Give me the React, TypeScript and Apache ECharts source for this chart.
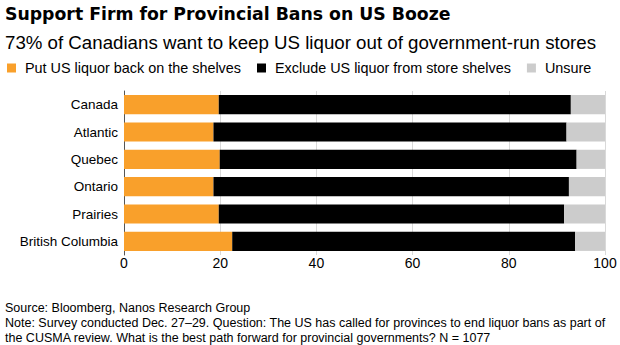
import React, { useEffect, useRef } from "react";
import * as echarts from "echarts";

const categories = ["Canada", "Atlantic", "Quebec", "Ontario", "Prairies", "British Columbia"];
const putBack = [19.7, 18.6, 19.9, 18.6, 19.7, 22.5];
const exclude = [73.2, 73.4, 74.2, 73.9, 71.8, 71.3];
const unsure = [7.1, 8.0, 5.9, 7.5, 8.5, 6.2];
const seriesNames = ["Put US liquor back on the shelves", "Exclude US liquor from store shelves", "Unsure"];
const colors = ["#f9a02b", "#000000", "#cccccc"];
const xTicks = [0, 20, 40, 60, 80, 100];

const FONT = "'Liberation Sans', Arial, Helvetica, sans-serif";
const TITLE_FONT = "'DejaVu Sans', 'Liberation Sans', Arial, sans-serif";

export default function App() {
  const ref = useRef<HTMLDivElement>(null);
  useEffect(() => {
    if (!ref.current) return;
    const chart = echarts.init(ref.current, undefined, { renderer: "svg" });
    const data = [putBack, exclude, unsure];
    chart.setOption({
      animation: false,
      textStyle: { fontFamily: FONT },
      title: [
        {
          text: "Support Firm for Provincial Bans on US Booze",
          left: 5,
          top: 5,
          padding: 0,
          textStyle: { fontSize: 17.3, fontWeight: "bold", color: "#000", fontFamily: TITLE_FONT },
        },
        {
          text: "73% of Canadians want to keep US liquor out of government-run stores",
          left: 5,
          top: 33,
          padding: 0,
          textStyle: { fontSize: 18.7, fontWeight: "normal", color: "#000", fontFamily: FONT },
        },
      ],
      legend: {
        left: 7,
        top: 61,
        padding: 0,
        icon: "rect",
        itemWidth: 9,
        itemHeight: 9,
        itemGap: 16,
        textStyle: { fontSize: 14.4, color: "#000", fontFamily: FONT, padding: [0, 0, 0, 4] },
        data: seriesNames,
      },
      grid: { left: 124, right: 15, top: 91, bottom: 90, containLabel: false },
      xAxis: {
        type: "value",
        min: 0,
        max: 100,
        interval: 20,
        axisLine: { show: false },
        axisTick: { show: false },
        splitLine: { show: true, lineStyle: { color: "#d9d9d9", width: 1 } },
        axisLabel: {
          fontSize: 14,
          color: "#000",
          fontFamily: FONT,
          margin: 1,
          formatter: (v: number) => (xTicks.includes(v) ? String(v) : ""),
        },
      },
      yAxis: {
        type: "category",
        data: categories,
        inverse: true,
        axisLine: { show: true, lineStyle: { color: "#555", width: 1 } },
        axisTick: { show: false },
        axisLabel: { fontSize: 13.5, color: "#000", fontFamily: FONT, margin: 6 },
      },
      series: seriesNames.map((name, i) => ({
        name,
        type: "bar",
        stack: "total",
        data: data[i],
        barWidth: "70%",
        itemStyle: { color: colors[i] },
      })),
      graphic: [
        {
          type: "text",
          left: 5,
          top: 301,
          style: { text: "Source: Bloomberg, Nanos Research Group", fontSize: 12.5, fill: "#000", fontFamily: FONT },
        },
        {
          type: "text",
          left: 5,
          top: 315,
          style: {
            text:
              "Note: Survey conducted Dec. 27–29. Question: The US has called for provinces to end liquor bans as part of\nthe CUSMA review. What is the best path forward for provincial governments? N = 1077",
            fontSize: 12.5,
            lineHeight: 15,
            fill: "#000",
            fontFamily: FONT,
          },
        },
      ],
    });
    return () => chart.dispose();
  }, []);
  return <div ref={ref} style={{ width: 620, height: 345, position: "absolute", left: 0, top: 0, background: "#fff" }} />;
}
